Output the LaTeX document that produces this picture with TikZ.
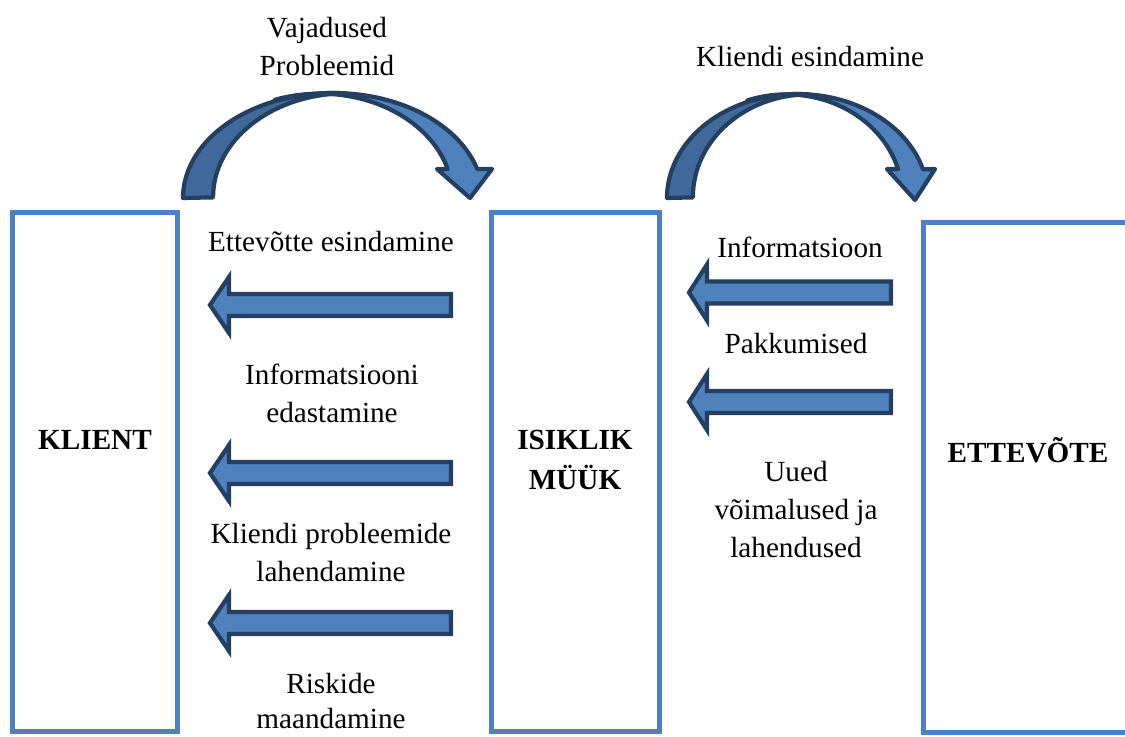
\documentclass[tikz,border=0pt]{standalone}
\usepackage{fontspec}
\setmainfont{Liberation Serif}
\begin{document}
\begin{tikzpicture}[x=0.5pt,y=-0.5pt,
  boxframe/.style={draw=boxblue,line width=2.5pt,minimum width=#1,inner sep=0pt},
  blockarrow/.style={draw=arrowedge,fill=boxblue,line width=2.1pt,line join=miter},
  backband/.style={draw=arrowedge,fill=backblue,line width=2.1pt,line join=round},
  label/.style={align=center,font=\fontsize{14.6}{19}\selectfont,inner sep=0pt},
  title/.style={align=center,font=\fontsize{14.6}{20}\selectfont\bfseries,inner sep=0pt}]
\definecolor{boxblue}{HTML}{4F81BD}
\definecolor{arrowedge}{HTML}{243F60}
\definecolor{backblue}{HTML}{41699C}
\useasboundingbox (0,0) rectangle (1125,737);
\clip (0,0) rectangle (1125,737);

% frames
\node[boxframe=82.5pt,minimum height=259.25pt] (klient) at (95,471.75) {};
\node[boxframe=84pt,minimum height=259.25pt] (myyk) at (575.5,471.75) {};
\draw[draw=boxblue,line width=2.5pt] (1140,222.5) -- (923.5,222.5) -- (923.5,732.5) -- (1140,732.5);

% curved arrow over the left gap
\path[backband] (183,198) arc[start angle=180,end angle=275,x radius=150,y radius=105]
  arc[start angle=270,end angle=180,x radius=133,y radius=104] -- cycle;
\path[blockarrow,line join=round] (281.7,99.3) arc[start angle=250,end angle=344,x radius=150,y radius=105]
  -- (492,169) -- (470,198) -- (437,169) -- (447.7,169)
  arc[start angle=344,end angle=250,x radius=133,y radius=104] -- cycle;

% curved arrow over the right gap
\path[backband] (667,198) arc[start angle=180,end angle=275,x radius=130.5,y radius=104]
  arc[start angle=270,end angle=180,x radius=116,y radius=103] -- cycle;
\path[blockarrow,line join=round] (752.9,100.3) arc[start angle=250,end angle=344,x radius=130.5,y radius=104]
  -- (935,169) -- (915,200) -- (887,169) -- (898,169)
  arc[start angle=344,end angle=250,x radius=116,y radius=103] -- cycle;

% straight arrows towards the client
\foreach \yy in {305,473,623}
  \path[blockarrow] (451,\yy-11) -- (229,\yy-11) -- (229,\yy-28) -- (210,\yy)
    -- (229,\yy+28) -- (229,\yy+11) -- (451,\yy+11) -- cycle;
% straight arrows towards personal selling
\foreach \yy in {292.5,402}
  \path[blockarrow] (891,\yy-11) -- (707,\yy-11) -- (707,\yy-28) -- (689,\yy)
    -- (707,\yy+28) -- (707,\yy+11) -- (891,\yy+11) -- cycle;

% texts
\node[title] (tklient) at (95,440) {KLIENT};
\node[title] (tmyyk) at (575,460) {ISIKLIK\\MÜÜK};
\node[title] (tettevote) at (1028,450) {ETTEVÕTE};

\node[label] (vajadused) at (327,47) {Vajadused\\Probleemid};
\node[label] (esindamine) at (810,57) {Kliendi esindamine};
\node[label] (ettevotte) at (331,242) {Ettevõtte esindamine};
\node[label] (info) at (332,393) {Informatsiooni\\edastamine};
\node[label] (probleemid) at (331,553) {Kliendi probleemide\\lahendamine};
\node[label,font=\fontsize{14.6}{17.5}\selectfont] (riskid) at (331,701) {Riskide\\maandamine};
\node[label] (informatsioon) at (800,247) {Informatsioon};
\node[label] (pakkumised) at (796,344) {Pakkumised};
\node[label] (uued) at (796,510) {Uued\\võimalused ja\\lahendused};
\end{tikzpicture}
\end{document}
